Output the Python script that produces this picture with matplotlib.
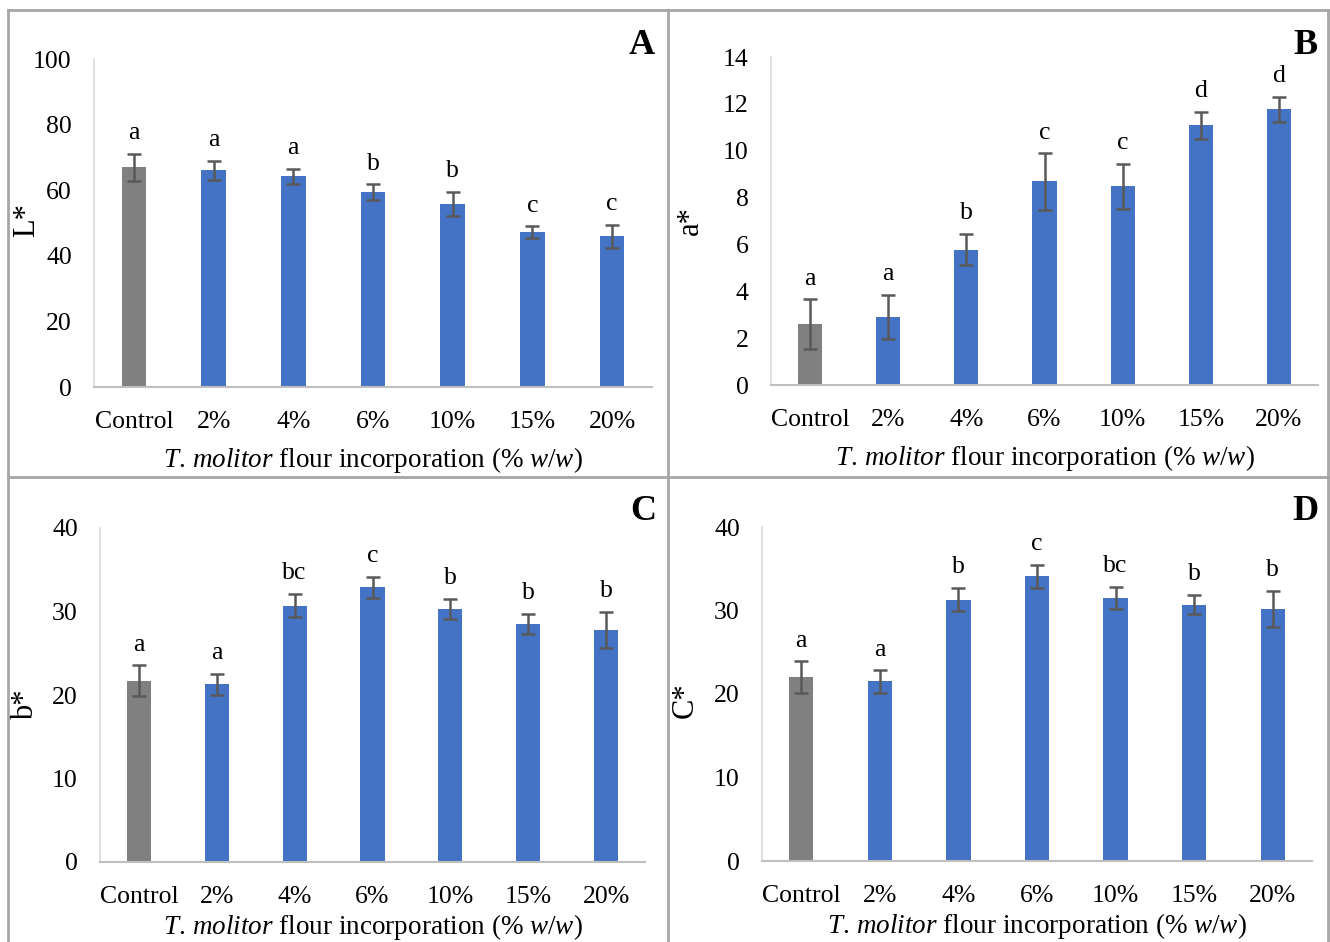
import numpy as np
import matplotlib.pyplot as plt
from matplotlib.lines import Line2D

plt.rcParams['font.family'] = ['Liberation Serif', 'DejaVu Serif']
plt.rcParams['mathtext.fontset'] = 'custom'
plt.rcParams['mathtext.rm'] = 'Liberation Serif'
plt.rcParams['mathtext.it'] = 'Liberation Serif:italic'

categories = ['Control', '2%', '4%', '6%', '10%', '15%', '20%']

L_mean = [67.0, 66.1, 64.2, 59.4, 55.8, 47.2, 45.9]
L_sd = [4.1, 2.9, 2.3, 2.4, 3.8, 1.8, 3.5]
L_letters = ['a', 'a', 'a', 'b', 'b', 'c', 'c']

a_mean = [2.6, 2.9, 5.78, 8.69, 8.48, 11.08, 11.76]
a_sd = [1.05, 0.95, 0.67, 1.2, 0.95, 0.58, 0.53]
a_letters = ['a', 'a', 'b', 'c', 'c', 'd', 'd']

b_mean = [21.7, 21.3, 30.7, 32.9, 30.3, 28.5, 27.8]
b_sd = [1.85, 1.25, 1.4, 1.25, 1.2, 1.2, 2.2]
b_letters = ['a', 'a', 'bc', 'c', 'b', 'b', 'b']

C_mean = [22.0, 21.5, 31.3, 34.1, 31.5, 30.7, 30.2]
C_sd = [1.9, 1.35, 1.4, 1.4, 1.35, 1.15, 2.15]
C_letters = ['a', 'a', 'b', 'c', 'bc', 'b', 'b']

W, H = 1330, 942
fig = plt.figure(figsize=(W / 100, H / 100), dpi=100)

xlabel = r'$\it{T.\,molitor}$ flour incorporation $\it{(\%\ w/w)}$'
bar_colors = ['#808080'] + ['#4472C4'] * 6


def px_axes(x0, y0, x1, y1):
    return fig.add_axes([x0 / W, 1 - y1 / H, (x1 - x0) / W, (y1 - y0) / H])


def panel(box, means, sds, letters, ylim, step, ylab, ylab_xy, tag, tag_xy, xlab_pad):
    ax = px_axes(*box)
    x = np.arange(len(categories))
    ax.bar(x, means, width=0.31, color=bar_colors, zorder=2)
    ax.errorbar(x, means, yerr=sds, fmt='none', ecolor='#595959',
                elinewidth=1.8, capsize=5, capthick=1.8, zorder=3)
    for xi, m, s, lt in zip(x, means, sds, letters):
        ax.annotate(lt, (xi, m + s), xytext=(0, 10.5), textcoords='offset points',
                    ha='center', va='baseline', fontsize=18.5)
    ax.set_xlim(-0.5, len(categories) - 0.5)
    ax.set_ylim(0, ylim)
    ax.set_yticks(np.arange(0, ylim + 0.01, step))
    ax.set_xticks(x)
    ax.set_xticklabels(categories)
    ax.tick_params(axis='both', length=0, labelsize=18.5)
    ax.tick_params(axis='x', pad=17)
    ax.tick_params(axis='y', pad=16)
    for s in ['top', 'right']:
        ax.spines[s].set_visible(False)
    ax.spines['left'].set_color('#d9d9d9')
    ax.spines['bottom'].set_color('#bfbfbf')
    ax.spines['left'].set_linewidth(1.2)
    ax.spines['bottom'].set_linewidth(1.5)
    ax.set_ylabel(ylab, fontsize=22)
    ax.yaxis.set_label_coords(*ylab_xy)
    ax.set_xlabel(xlabel, fontsize=19.5, labelpad=xlab_pad)
    fig.text(tag_xy[0] / W, 1 - tag_xy[1] / H, tag, fontsize=26,
             fontweight='bold', ha='center', va='center')
    return ax


panel((94, 59, 652, 387), L_mean, L_sd, L_letters, 100, 20, 'L*', (-0.095, 0.51),
      'A', (642, 45), 9)
panel((771, 57, 1318, 385), a_mean, a_sd, a_letters, 14, 2, 'a*', (-0.12, 0.5),
      'B', (1305, 45), 9)
panel((100, 528, 645, 862), b_mean, b_sd, b_letters, 40, 10, 'b*', (-0.11, 0.47),
      'C', (643, 512), 3)
panel((762, 527, 1312, 861), C_mean, C_sd, C_letters, 40, 10, 'C*', (-0.113, 0.48),
      'D', (1305, 512), 3)

# panel borders
border = dict(color='#a6a6a6', linewidth=2, transform=fig.transFigure)
for xs, ys in [((8, 1328), (10, 10)), ((8, 1328), (477, 477)),
               ((8, 8), (10, 942)), ((668, 668), (10, 942)),
               ((1328, 1328), (10, 942))]:
    fig.add_artist(Line2D([v / W for v in xs], [1 - v / H for v in ys], **border))

fig.savefig('out.png', dpi=100)
